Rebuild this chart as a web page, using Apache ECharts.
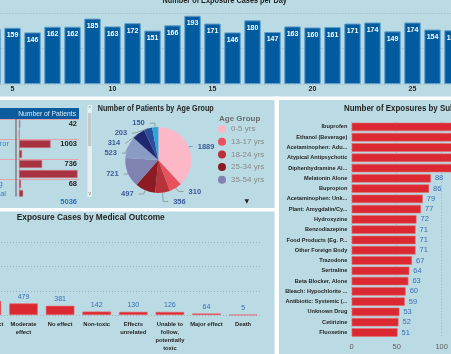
<!DOCTYPE html>
<html>
<head>
<meta charset="utf-8">
<script src="https://cdn.jsdelivr.net/npm/echarts@6/dist/echarts.min.js"></script>
<style>
  html, body { margin: 0; padding: 0; background: #badbe4; }
  #chart { width: 451px; height: 354px; }
</style>
</head>
<body>
<div id="chart"></div>
<script>
// cases per day (days 4 and 27 are only partly in view)
const days = [4, 5, 6, 7, 8, 9, 10, 11, 12, 13, 14, 15, 16, 17, 18, 19, 20, 21, 22, 23, 24, 25, 26, 27];
const dailyCases = [155, 159, 146, 162, 162, 185, 163, 172, 151, 166, 193, 171, 146, 180, 147, 163, 160, 161, 171, 174, 149, 174, 154, 152];

// patients by reason (table)
const reasons = ['Adverse reaction - drug', 'Contamination/tampering', 'Unintentional - therapeutic error',
  'Intentional - misuse', 'Unintentional - misuse', 'Unintentional - general',
  'Unintentional - food poisoning', 'Intentional - suspected suicidal'];
const reasonPatients = [42, 7, 1003, 99, 736, 1855, 68, 134];
const patientTotal = 5036;

// age groups
const ageGroups = ['0-5 yrs', '13-17 yrs', '18-24 yrs', '25-34 yrs', '35-54 yrs', '55-64 yrs', '6-12 yrs', '65+ yrs', 'Unknown'];
const agePatients = [1889, 310, 356, 497, 721, 523, 314, 203, 150];
const ageColors = ['#fdb8c8', '#e8525c', '#b8323a', '#8c1b24', '#8082b2', '#8a9cc6', '#1f2870', '#2b4f9c', '#2ea2da'];

// medical outcome
const outcomes = ['Not followed,\nminimal', 'Minor effect', 'Moderate\neffect', 'No effect', 'Non-toxic',
  'Effects\nunrelated', 'Unable to\nfollow,\npotentially\ntoxic', 'Major effect', 'Death'];
const outcomeCases = [2850, 580, 479, 381, 142, 130, 126, 64, 5];

// exposures by substance
const substances = ['Ibuprofen', 'Ethanol (Beverage)', 'Acetaminophen: Adu...', 'Atypical Antipsychotic',
  'Diphenhydramine Al...', 'Melatonin Alone', 'Bupropion', 'Acetaminophen: Unk...', 'Plant: Amygdalin/Cy...',
  'Hydroxyzine', 'Benzodiazepine', 'Food Products (Eg. P...', 'Other Foreign Body', 'Trazodone', 'Sertraline',
  'Beta Blocker, Alone', 'Bleach: Hypochlorite ...', 'Antibiotic: Systemic (...', 'Unknown Drug', 'Cetirizine', 'Fluoxetine'];
const substanceExposures = [150, 138, 128, 120, 114, 88, 86, 79, 77, 72, 71, 71, 71, 67, 64, 63, 60, 59, 53, 52, 51];

const FONT = 'Liberation Sans';
const BG = '#badbe4';
const dotted = { show: true, lineStyle: { color: '#9fb0b8', type: [1, 2], width: 1 } };

// panel titles: the report font is narrower than Arial, so squeeze horizontally
const title = (text, x, y, size, sx, align) => ({
  type: 'text', z: 101, x, y, scaleX: sx,
  style: { text, fill: '#252423', font: `bold ${size}px "Liberation Sans"`,
    textAlign: align || 'left', textVerticalAlign: 'middle' }
});

const chart = echarts.init(document.getElementById('chart'));

chart.setOption({
  backgroundColor: BG,
  animation: false,
  textStyle: { fontFamily: FONT },
  legend: {
    data: ageGroups.slice(0, 5),
    orient: 'vertical',
    left: 218,
    top: 125,
    itemGap: 4.7,
    itemWidth: 8,
    itemHeight: 8,
    icon: 'circle',
    padding: 0,
    textStyle: { fontSize: 8, color: '#8a8886', fontFamily: FONT }
  },
  grid: [
    { left: -17.5, top: 13.3, width: 480, height: 70.7, outerBoundsMode: 'none' },
    { left: 0, top: 119, width: 79, height: 80, outerBoundsMode: 'none' },
    { left: -68, top: 242.3, width: 329.4, height: 72.7, outerBoundsMode: 'none' },
    { left: 351.7, top: 121.8, width: 180, height: 215.8, outerBoundsMode: 'none' }
  ],
  xAxis: [
    {
      gridIndex: 0, type: 'category', data: days,
      axisLine: { show: false }, axisTick: { show: false },
      axisLabel: {
        interval: (i, v) => Number(v) % 5 === 0,
        fontSize: 7, fontWeight: 'bold', color: '#252423', margin: 2
      }
    },
    {
      gridIndex: 1, type: 'value', min: -600, max: 1900,
      axisLine: { show: false }, axisTick: { show: false }, axisLabel: { show: false }, splitLine: { show: false }
    },
    {
      gridIndex: 2, type: 'category', data: outcomes,
      axisLine: { show: false }, axisTick: { show: false },
      axisLabel: { interval: 0, fontSize: 5.8, fontWeight: 'bold', color: '#252423', lineHeight: 7.7, margin: 6 }
    },
    {
      gridIndex: 3, type: 'value', min: 0, max: 200, interval: 50,
      axisLine: { show: false }, axisTick: { show: false },
      axisLabel: { fontSize: 7.5, color: '#605e5c', margin: 5 },
      splitLine: dotted
    }
  ],
  yAxis: [
    {
      gridIndex: 0, type: 'value', min: 0, max: 200, interval: 100,
      axisLabel: { show: false }, splitLine: dotted
    },
    {
      gridIndex: 1, type: 'category', data: reasons, inverse: true,
      axisLine: { show: true, onZero: true, lineStyle: { color: '#e0939b', width: 1 } },
      axisTick: { show: false },
      axisLabel: { show: false },
      splitLine: { show: true, lineStyle: { color: '#e6a0a8', width: 1 } }
    },
    {
      gridIndex: 1, type: 'category', data: reasons, inverse: true, position: 'right',
      axisLine: { show: false, onZero: false }, axisTick: { show: false },
      axisLabel: {
        inside: true, margin: 2, fontSize: 7.5, fontWeight: 'bold', color: '#252423',
        formatter: (v, i) => String(reasonPatients[i])
      }
    },
    {
      gridIndex: 2, type: 'value', min: 0, max: 3000, interval: 1000,
      axisLabel: { show: false }, splitLine: dotted
    },
    {
      gridIndex: 3, type: 'category', data: substances, inverse: true,
      axisLine: { show: false }, axisTick: { show: false },
      axisLabel: { fontSize: 5.6, fontWeight: 'bold', color: '#252423', margin: 4.4 }
    }
  ],
  series: [
    {
      type: 'bar', xAxisIndex: 0, yAxisIndex: 0, data: dailyCases,
      barCategoryGap: '18%',
      itemStyle: { color: '#005b9f', borderColor: '#5d9dc9', borderWidth: 1 },
      label: { show: true, position: 'insideTop', distance: 4, fontSize: 7, fontWeight: 'bold', color: '#ffffff' }
    },
    {
      // table rows: name column starts off to the left of the view
      type: 'bar', xAxisIndex: 1, yAxisIndex: 1, data: reasonPatients,
      barWidth: 8,
      itemStyle: { color: '#a8323f', borderColor: '#cf7f89', borderWidth: 0.6 },
      label: { show: true, position: [-115.5, '50%'], align: 'left', verticalAlign: 'middle',
        formatter: '{b}', fontSize: 7.5, color: '#3d7fc4' }
    },
    {
      type: 'bar', xAxisIndex: 2, yAxisIndex: 3, data: outcomeCases,
      barCategoryGap: '22%',
      itemStyle: { color: '#dc2830', borderColor: '#e86a70', borderWidth: 0.6 },
      label: { show: true, position: 'top', distance: 3, fontSize: 7, color: '#3b6db5' }
    },
    {
      type: 'bar', xAxisIndex: 3, yAxisIndex: 4, data: substanceExposures,
      barCategoryGap: '18%',
      itemStyle: { color: '#dc2830', borderColor: '#e86a70', borderWidth: 0.6 },
      label: { show: true, position: 'right', distance: 4, fontSize: 7.5, color: '#3b6db5' }
    },
    {
      type: 'pie', center: [158.3, 160], radius: 33, startAngle: 90, clockwise: true,
      data: ageGroups.map((n, i) => ({ name: n, value: agePatients[i], itemStyle: { color: ageColors[i] } })),
      label: { show: true, position: 'outside', fontSize: 7.5, fontWeight: 'bold', color: '#3c5a99', formatter: '{c}' },
      labelLine: { show: true, length: 4, length2: 5, lineStyle: { color: '#8f9ea6', width: 1 } },
      itemStyle: { borderWidth: 0 }
    }
  ],
  graphic: [
    // white gaps between panels
    { type: 'rect', z: 100, shape: { x: 0, y: 96.5, width: 451, height: 3.5 }, style: { fill: '#ffffff' } },
    { type: 'rect', z: 100, shape: { x: 274.5, y: 96.5, width: 4.5, height: 258 }, style: { fill: '#ffffff' } },
    { type: 'rect', z: 100, shape: { x: 0, y: 208, width: 275, height: 3.5 }, style: { fill: '#ffffff' } },
    // titles
    title('Number of Exposure Cases per Day', 224.7, 1, 8.5, 0.86, 'center'),
    title('Number of Patients by Age Group', 97.7, 108.3, 8.5, 0.85),
    title('Exposure Cases by Medical Outcome', 16.7, 217.7, 9, 0.925),
    title('Number of Exposures by Substance', 344, 109, 9, 0.88),
    // table header
    { type: 'rect', z: 100, shape: { x: 0, y: 108, width: 79, height: 11 }, style: { fill: '#0b5c9e' } },
    { type: 'text', z: 101, x: 76, y: 113.7, scaleX: 0.9, style: { text: 'Number of Patients', fill: '#dce9f5',
      font: '7.5px "Liberation Sans"', textAlign: 'right', textVerticalAlign: 'middle' } },
    { type: 'line', z: 100, shape: { x1: 16, y1: 119, x2: 16, y2: 197 }, style: { stroke: '#6e4a52', lineWidth: 1 } },
    // total row
    { type: 'rect', z: 100, shape: { x: 0, y: 196.5, width: 86, height: 11.5 }, style: { fill: BG } },
    { type: 'text', z: 101, style: { x: 77, y: 201.7, text: String(patientTotal), fill: '#2a70bd',
      font: 'bold 7.5px "Liberation Sans"', textAlign: 'right', textVerticalAlign: 'middle' } },
    // table scrollbar
    { type: 'rect', z: 100, shape: { x: 87.5, y: 105, width: 4.5, height: 92 }, style: { fill: '#e8eef0' } },
    { type: 'rect', z: 101, shape: { x: 88, y: 113, width: 3.5, height: 33 }, style: { fill: '#c6c8ca' } },
    { type: 'text', z: 101, style: { x: 89.7, y: 108.5, text: '^', fill: '#777', font: '5px "Liberation Sans"', textAlign: 'center', textVerticalAlign: 'middle' } },
    { type: 'text', z: 101, style: { x: 89.7, y: 193.5, text: 'v', fill: '#777', font: '5px "Liberation Sans"', textAlign: 'center', textVerticalAlign: 'middle' } },
    // legend title and page arrow
    { type: 'text', z: 101, style: { x: 219, y: 119, text: 'Age Group', fill: '#6b6a70',
      font: 'bold 8px "Liberation Sans"', textAlign: 'left', textVerticalAlign: 'middle' } },
    { type: 'text', z: 101, style: { x: 246.7, y: 201, text: '▼', fill: '#252423',
      font: '6px "DejaVu Sans"', textAlign: 'center', textVerticalAlign: 'middle' } }
  ]
});
</script>
</body>
</html>
